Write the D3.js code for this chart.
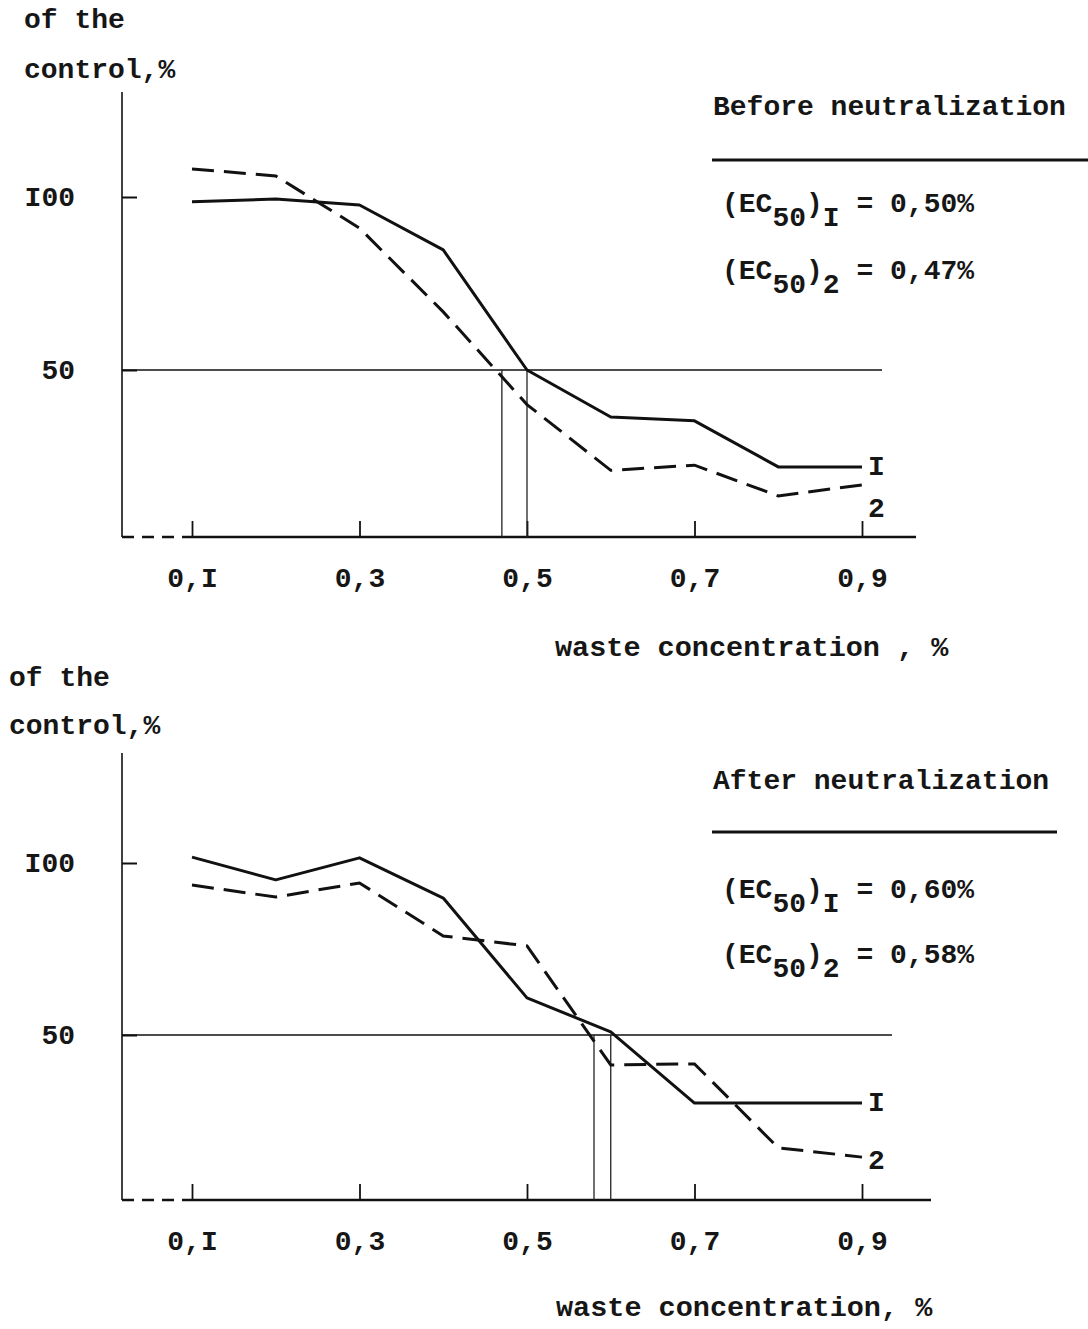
<!DOCTYPE html>
<html>
<head>
<meta charset="utf-8">
<script src="https://cdn.jsdelivr.net/npm/d3@7"></script>
<style>
  body { margin: 0; background: #fff; }
  svg text { font-family: "Liberation Mono", "Courier New", monospace; font-weight: bold; fill: #161616; }
</style>
</head>
<body>
<svg width="1088" height="1329"></svg>
<script>
// values
const CONC = [0.1, 0.2, 0.3, 0.4, 0.5, 0.6, 0.7, 0.8, 0.9];
const BEFORE_1 = [98.6, 99.4, 97.7, 84.7, 50, 36.4, 35.3, 22, 22];
const BEFORE_2 = [108.1, 106.1, 91, 66.8, 40, 21, 22.5, 13.6, 16.8];
const AFTER_1 = [101.7, 95.1, 101.5, 89.8, 60.8, 50.9, 30.2, 30.2, 30.2];
const AFTER_2 = [93.6, 90.1, 94.2, 78.8, 75.9, 41.3, 41.6, 17.2, 14.5];

const EC50_BEFORE = [0.50, 0.47];
const EC50_AFTER = [0.60, 0.58];
const EC50_BEFORE_TEXT = ['0,50%', '0,47%'];
const EC50_AFTER_TEXT = ['0,60%', '0,58%'];
const SERIES_NAMES = ['I', '2'];

const X_TICKS = [0.1, 0.3, 0.5, 0.7, 0.9];
const X_TICK_LABELS = ['0,I', '0,3', '0,5', '0,7', '0,9'];
const Y_TICKS = [100, 50];
const Y_TICK_LABELS = ['I00', '50'];

const FONT = 28;
const svg = d3.select('svg');

// layout of the two panels (pixel positions only)
const PANELS = [
  {
    s1: BEFORE_1, s2: BEFORE_2, ec: EC50_BEFORE, ecText: EC50_BEFORE_TEXT,
    title: 'Before neutralization', xTitle: 'waste  concentration , %',
    axisTop: 92, axisY: 537, y100: 197, y50: 370, xEnd: 916, refEnd: 882,
    yt1: 28, yt2: 78, ytX: 24, xtX: 555, xtY: 656,
    legY: 115, ruleY: 160, ruleEnd: 1088, ecY: [212, 279]
  },
  {
    s1: AFTER_1, s2: AFTER_2, ec: EC50_AFTER, ecText: EC50_AFTER_TEXT,
    title: 'After neutralization', xTitle: 'waste concentration, %',
    axisTop: 753, axisY: 1200, y100: 863, y50: 1035, xEnd: 931, refEnd: 892,
    yt1: 686, yt2: 734, ytX: 9, xtX: 556, xtY: 1316,
    legY: 789, ruleY: 832, ruleEnd: 1057, ecY: [898, 963]
  }
];

const AXIS_X = 122;

function drawPanel(p) {
  const g = svg.append('g');

  const x = d3.scaleLinear().domain([0.1, 0.9]).range([192, 862]);
  const y = d3.scaleLinear().domain([50, 100]).range([p.y50, p.y100]);

  // y axis title
  g.append('text').attr('x', p.ytX).attr('y', p.yt1).attr('font-size', FONT).text('of the');
  g.append('text').attr('x', p.ytX).attr('y', p.yt2).attr('font-size', FONT).text('control,%');

  // y axis line
  g.append('line')
    .attr('x1', AXIS_X).attr('x2', AXIS_X)
    .attr('y1', p.axisTop).attr('y2', p.axisY)
    .attr('stroke', '#111').attr('stroke-width', 1.6);

  const yAxis = g.append('g')
    .attr('transform', `translate(${AXIS_X},0)`)
    .call(d3.axisLeft(y).tickValues(Y_TICKS)
      .tickFormat((d, i) => Y_TICK_LABELS[i])
      .tickSize(-15).tickPadding(47));
  yAxis.select('.domain').remove();
  yAxis.selectAll('line').attr('stroke', '#111').attr('stroke-width', 2);
  yAxis.selectAll('text')
    .attr('font-family', null).attr('font-size', FONT).attr('fill', '#161616');

  // x axis: dashed stub from the y axis, then the solid scale
  g.append('line')
    .attr('x1', AXIS_X).attr('x2', x(0.1))
    .attr('y1', p.axisY).attr('y2', p.axisY)
    .attr('stroke', '#111').attr('stroke-width', 2.5)
    .attr('stroke-dasharray', '12,8');
  g.append('line')
    .attr('x1', x(0.1)).attr('x2', p.xEnd)
    .attr('y1', p.axisY).attr('y2', p.axisY)
    .attr('stroke', '#111').attr('stroke-width', 2.5);

  const xAxis = g.append('g')
    .attr('transform', `translate(0,${p.axisY})`)
    .call(d3.axisBottom(x).tickValues(X_TICKS)
      .tickFormat((d, i) => X_TICK_LABELS[i])
      .tickSize(-16).tickPadding(30));
  xAxis.select('.domain').remove();
  xAxis.selectAll('line').attr('stroke', '#111').attr('stroke-width', 1.8);
  xAxis.selectAll('text')
    .attr('font-family', null).attr('font-size', FONT).attr('fill', '#161616');

  g.append('text')
    .attr('x', p.xtX).attr('y', p.xtY)
    .attr('font-size', FONT + 0.5)
    .style('font-weight', 900)
    .text(p.xTitle);

  // 50 % reference line and EC50 drops
  g.append('line')
    .attr('x1', AXIS_X).attr('x2', p.refEnd)
    .attr('y1', y(50)).attr('y2', y(50))
    .attr('stroke', '#111').attr('stroke-width', 1.6);

  g.selectAll('.ec-drop')
    .data(p.ec)
    .join('line')
    .classed('ec-drop', true)
    .attr('x1', d => x(d)).attr('x2', d => x(d))
    .attr('y1', y(50)).attr('y2', p.axisY)
    .attr('stroke', '#222').attr('stroke-width', 1.3);

  // curves
  const line = d3.line()
    .x((d, i) => x(CONC[i]))
    .y(d => y(d));

  g.append('path')
    .datum(p.s1)
    .attr('d', line)
    .attr('fill', 'none')
    .attr('stroke', '#111')
    .attr('stroke-width', 3)
    .attr('stroke-linejoin', 'round');

  g.append('path')
    .datum(p.s2)
    .attr('d', line)
    .attr('fill', 'none')
    .attr('stroke', '#111')
    .attr('stroke-width', 3)
    .attr('stroke-dasharray', '22,10');

  // curve names at the right end
  const last1 = y(p.s1[p.s1.length - 1]);
  const last2 = y(p.s2[p.s2.length - 1]);
  g.append('text')
    .attr('x', x(0.9) + 6).attr('y', last1 - 2)
    .attr('dy', '0.35em').attr('font-size', FONT)
    .text(SERIES_NAMES[0]);
  g.append('text')
    .attr('x', x(0.9) + 6).attr('y', Math.max(last2 + 2, last1 + 40))
    .attr('dy', '0.35em').attr('font-size', FONT)
    .text(SERIES_NAMES[1]);

  // legend block
  g.append('text')
    .attr('x', 713).attr('y', p.legY)
    .attr('font-size', FONT)
    .text(p.title);
  g.append('line')
    .attr('x1', 712).attr('x2', p.ruleEnd)
    .attr('y1', p.ruleY).attr('y2', p.ruleY)
    .attr('stroke', '#111').attr('stroke-width', 3);

  p.ecText.forEach((t, i) => {
    const tx = g.append('text')
      .attr('x', 722).attr('y', p.ecY[i])
      .attr('font-size', FONT);
    tx.append('tspan').text('(EC');
    tx.append('tspan').attr('dy', 14).text('50');
    tx.append('tspan').attr('dy', -14).text(')');
    tx.append('tspan').attr('dy', 14).text(SERIES_NAMES[i]);
    tx.append('tspan').attr('dy', -14).text(' = ' + t);
  });
}

PANELS.forEach(drawPanel);
</script>
</body>
</html>
